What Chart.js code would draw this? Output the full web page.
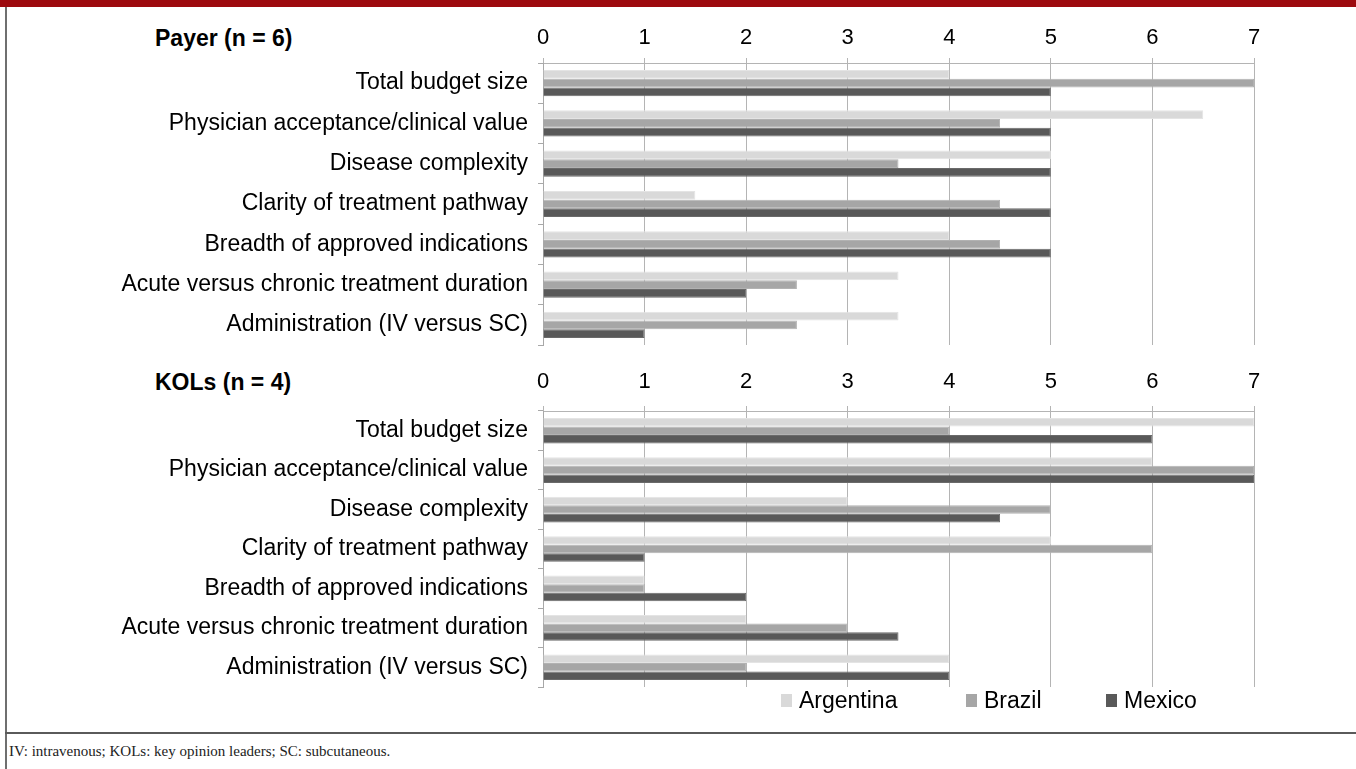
<!DOCTYPE html>
<html><head><meta charset="utf-8">
<script src="https://cdn.jsdelivr.net/npm/chart.js@4.4.0/dist/chart.umd.min.js"></script>
<style>
html,body{margin:0;padding:0;width:1356px;height:769px;overflow:hidden;background:#fff;font-family:"Liberation Sans",Arial,sans-serif;}
#banner{position:absolute;left:0;top:0;width:1356px;height:7px;background:#9d0a0e;}
#lborder{position:absolute;left:5px;top:7px;width:2px;height:762px;background:#6f6f6f;}
#sep{position:absolute;left:5px;top:732px;width:1351px;height:2px;background:#5a5a5a;}
#foot{position:absolute;left:9px;top:742px;font-family:"Liberation Serif","Times New Roman",serif;font-size:15px;color:#222;line-height:18px;}
.ttl{position:absolute;left:155px;font-weight:bold;font-size:23px;line-height:23px;color:#000;}
#c1wrap{position:absolute;left:0;top:0;width:1356px;height:350px;}
#c2wrap{position:absolute;left:0;top:350px;width:1356px;height:342px;}
#legend{position:absolute;top:688px;left:0;width:1356px;height:24px;}
.li{position:absolute;top:0;height:24px;display:flex;align-items:center;font-size:23px;color:#000;}
.li span.box{display:inline-block;width:11px;height:13px;margin-right:7px;}
</style>
</head><body>
<div id="banner"></div>
<div id="lborder"></div>
<div class="ttl" id="t1" style="top:27px;">Payer (n = 6)</div>
<div class="ttl" id="t2" style="top:371px;">KOLs (n = 4)</div>
<div id="c1wrap"><canvas id="c1"></canvas></div>
<div id="c2wrap"><canvas id="c2"></canvas></div>
<div id="legend"></div>
<div id="sep"></div>
<div id="foot">IV: intravenous; KOLs: key opinion leaders; SC: subcutaneous.</div>
<script>
const categories = [
  "Total budget size",
  "Physician acceptance/clinical value",
  "Disease complexity",
  "Clarity of treatment pathway",
  "Breadth of approved indications",
  "Acute versus chronic treatment duration",
  "Administration (IV versus SC)"
];
const seriesNames = ["Argentina", "Brazil", "Mexico"];
const xTickValues = [0, 1, 2, 3, 4, 5, 6, 7];

const payerArgentina = [4, 6.5, 5, 1.5, 4, 3.5, 3.5];
const payerBrazil    = [7, 4.5, 3.5, 4.5, 4.5, 2.5, 2.5];
const payerMexico    = [5, 5, 5, 5, 5, 2, 1];

const kolArgentina = [7, 6, 3, 5, 1, 2, 4];
const kolBrazil    = [4, 7, 5, 6, 1, 3, 2];
const kolMexico    = [6, 7, 4.5, 1, 2, 3.5, 4];

const fills   = ["#d9d9d9", "#a6a6a6", "#595959"];
const borders = ["#e4e4e4", "#b2b2b2", "#6a6a6a"];

function makeDatasets(arrs){
  return arrs.map((d,i)=>({
    label: seriesNames[i],
    data: d,
    backgroundColor: fills[i],
    borderColor: borders[i],
    borderWidth: 1,
    categoryPercentage: 0.65,
    barPercentage: 1.0
  }));
}

function makeOptions(axisH, labelPad){
  return {
    indexAxis: 'y',
    responsive: true,
    maintainAspectRatio: false,
    animation: false,
    events: [],
    layout: { padding: { left: 0, right: 102, top: 0, bottom: 5 } },
    plugins: { legend: { display: false }, tooltip: { enabled: false } },
    scales: {
      x: {
        type: 'linear', position: 'top', min: 0, max: 7,
        afterBuildTicks: s => { s.ticks = xTickValues.map(v => ({ value: v })); },
        ticks: { font: { family: "Liberation Sans", size: 22 }, color: '#000', padding: labelPad },
        grid: { color: '#b4b4b4', lineWidth: 1, tickLength: 5 },
        border: { display: true, color: '#b4b4b4', width: 1 },
        afterFit: s => { s.height = axisH; }
      },
      y: {
        type: 'category', labels: categories, offset: true,
        ticks: { font: { family: "Liberation Sans", size: 23 }, color: '#000', padding: 10 },
        grid: { drawOnChartArea: false, offset: true, tickLength: 5, color: '#a8a8a8' },
        border: { display: true, color: '#a8a8a8', width: 1 },
        afterFit: s => { s.width = 543; s.paddingTop = 0; s.paddingBottom = 0; }
      }
    }
  };
}

new Chart(document.getElementById('c1'), {
  type: 'bar',
  data: { labels: categories, datasets: makeDatasets([payerArgentina, payerBrazil, payerMexico]) },
  options: makeOptions(63, 7)
});
new Chart(document.getElementById('c2'), {
  type: 'bar',
  data: { labels: categories, datasets: makeDatasets([kolArgentina, kolBrazil, kolMexico]) },
  options: makeOptions(61, 11)
});

// legend built from series names and colors
const legendX = [781, 966, 1106];
const lg = document.getElementById('legend');
seriesNames.forEach((n,i)=>{
  const d = document.createElement('div');
  d.className = 'li';
  d.style.left = legendX[i] + 'px';
  const b = document.createElement('span');
  b.className = 'box';
  b.style.background = fills[i];
  d.appendChild(b);
  d.appendChild(document.createTextNode(n));
  lg.appendChild(d);
});
</script>
</body></html>
